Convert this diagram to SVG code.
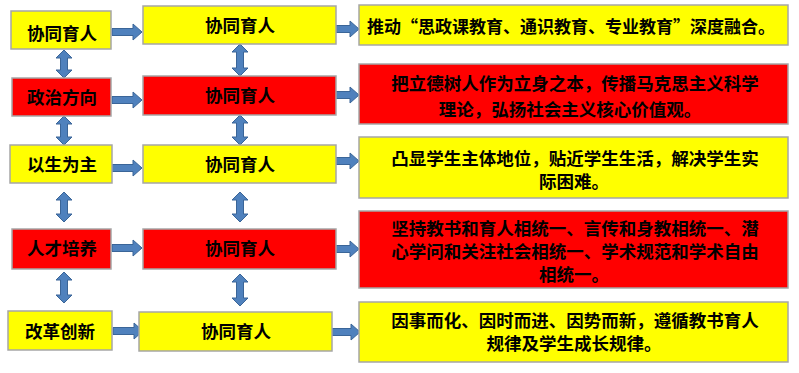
<svg xmlns="http://www.w3.org/2000/svg" width="799" height="373" viewBox="0 0 799 373">
<style>
.y{fill:#FFFF00;stroke:#A6A6A6;stroke-width:1.5}
.r{fill:#FF0000;stroke:#A6A6A6;stroke-width:1.5}
.a{fill:#4F81BD;stroke:#3A6598;stroke-width:1}
text{font-family:"Noto Sans CJK SC","Noto Sans CJK TC",sans-serif;font-size:17.5px;font-weight:bold;fill:#000;text-anchor:middle;dominant-baseline:central}
</style>
<rect width="799" height="373" fill="#fff"/>
<g id="connectors">
<path class="a" d="M112 28.5H133V24L142 32L133 40V35.5H112Z"/>
<path class="a" d="M112 96.5H133V92L142 100L133 108V103.5H112Z"/>
<path class="a" d="M112 164.5H133V160L142 168L133 176V171.5H112Z"/>
<path class="a" d="M112 244.5H133V240L142 248L133 256V251.5H112Z"/>
<path class="a" d="M113 327.5H134V323L143 331L134 339V334.5H113Z"/>
<path class="a" d="M336 25.5H350V21L359 29L350 37V32.5H336Z"/>
<path class="a" d="M336 91.5H350V87L359 95L350 103V98.5H336Z"/>
<path class="a" d="M336 157.5H350V153L359 161L350 169V164.5H336Z"/>
<path class="a" d="M336 245.5H350V241L359 249L350 257V252.5H336Z"/>
<path class="a" d="M332 328.5H351V324L360 332L351 340V335.5H332Z"/>
<path class="a" d="M64 50L72 58H67.5V70H72L64 78L56 70H60.5V58H56Z"/>
<path class="a" d="M64 116L72 124H67.5V137H72L64 145L56 137H60.5V124H56Z"/>
<path class="a" d="M64 192L72 200H67.5V214H72L64 222L56 214H60.5V200H56Z"/>
<path class="a" d="M64 272L72 280H67.5V295H72L64 303L56 295H60.5V280H56Z"/>
<path class="a" d="M240 44L248 52H243.5V68H248L240 76L232 68H236.5V52H232Z"/>
<path class="a" d="M240 115L248 123H243.5V137H248L240 145L232 137H236.5V123H232Z"/>
<path class="a" d="M240 192L248 200H243.5V214H248L240 222L232 214H236.5V200H232Z"/>
<path class="a" d="M240 274L248 282H243.5V298H248L240 306L232 298H236.5V282H232Z"/>
</g>
<g id="l1"><rect class="y" x="11" y="11" width="100" height="38"/><text x="62" y="32">协同育人</text></g>
<g id="l2"><rect class="r" x="12" y="78" width="99" height="38"/><text x="62" y="96">政治方向</text></g>
<g id="l3"><rect class="y" x="10" y="145" width="102" height="38"/><text x="62" y="163">以生为主</text></g>
<g id="l4"><rect class="r" x="12" y="229" width="99" height="40"/><text x="62" y="247">人才培养</text></g>
<g id="l5"><rect class="y" x="8" y="311" width="104" height="39"/><text x="60" y="330">改革创新</text></g>
<g id="m1"><rect class="y" x="143" y="6" width="193" height="38"/><text x="240" y="24">协同育人</text></g>
<g id="m2"><rect class="r" x="143" y="76" width="193" height="39"/><text x="240" y="94">协同育人</text></g>
<g id="m3"><rect class="y" x="143" y="145" width="193" height="38"/><text x="240" y="163">协同育人</text></g>
<g id="m4"><rect class="r" x="143" y="229" width="193" height="40"/><text x="240" y="247">协同育人</text></g>
<g id="m5"><rect class="y" x="139" y="312" width="193" height="39"/><text x="236" y="330">协同育人</text></g>
<g id="r1"><rect class="y" x="359" y="5" width="429" height="40"/><text x="571" y="25" style="font-size:17px">推动“思政课教育、通识教育、专业教育”深度融合。</text></g>
<g id="r2"><rect class="r" x="359" y="64" width="429" height="60"/><text x="575" y="82">把立德树人作为立身之本，传播马克思主义科学</text><text x="570" y="108">理论，弘扬社会主义核心价值观。</text></g>
<g id="r3"><rect class="y" x="359" y="137" width="429" height="61"/><text x="575" y="157">凸显学生主体地位，贴近学生生活，解决学生实</text><text x="574" y="180">际困难。</text></g>
<g id="r4"><rect class="r" x="359" y="211" width="429" height="77"/><text x="575" y="227">坚持教书和育人相统一、言传和身教相统一、潜</text><text x="575" y="250">心学问和关注社会相统一、学术规范和学术自由</text><text x="574" y="273">相统一。</text></g>
<g id="r5"><rect class="y" x="359" y="302" width="429" height="60"/><text x="575" y="319">因事而化、因时而进、因势而新，遵循教书育人</text><text x="574" y="342">规律及学生成长规律。</text></g>
</svg>
